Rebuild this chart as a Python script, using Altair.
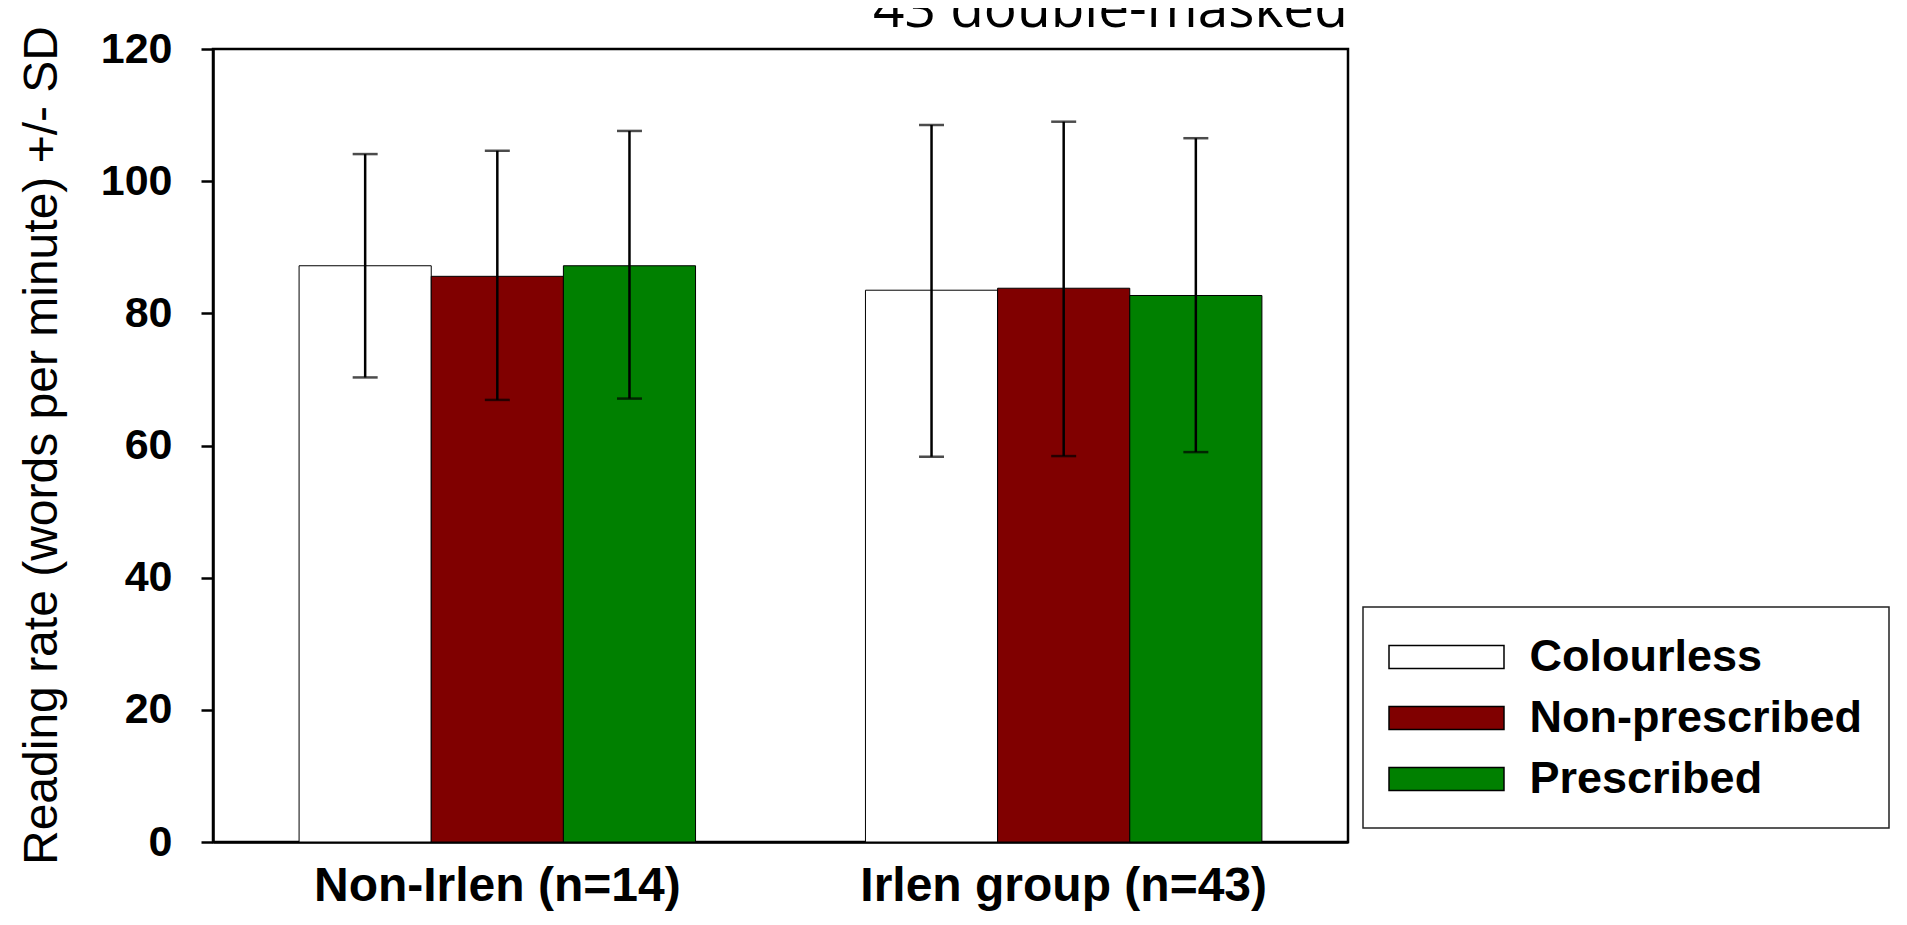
import altair as alt
import pandas as pd

# ---- data ----
groups = ["Non-Irlen (n=14)", "Irlen group (n=43)"]
conditions = ["Colourless", "Non-prescribed", "Prescribed"]
colors = ["#ffffff", "#800000", "#008000"]

mean_non_irlen = [87.2, 85.6, 87.2]
upper_non_irlen = [104.1, 104.6, 107.6]
lower_non_irlen = [70.3, 66.9, 67.1]

mean_irlen = [83.5, 83.8, 82.7]
upper_irlen = [108.5, 109.0, 106.5]
lower_irlen = [58.3, 58.4, 59.0]

y_ticks = [0, 20, 40, 60, 80, 100, 120]
y_title = "Reading rate (words per minute) +/- SD"
top_note = "43 double-masked"

rows = []
for g, means, ups, los in [
    (groups[0], mean_non_irlen, upper_non_irlen, lower_non_irlen),
    (groups[1], mean_irlen, upper_irlen, lower_irlen),
]:
    for c, m, u, l in zip(conditions, means, ups, los):
        rows.append({"group": g, "condition": c, "mean": m, "upper": u, "lower": l})
df = pd.DataFrame(rows)

FONT = "Liberation Sans"

x_enc = alt.X(
    "group:N",
    sort=groups,
    scale=alt.Scale(paddingInner=0.3, paddingOuter=0.152),
    axis=alt.Axis(
        title=None,
        labelAngle=0,
        ticks=False,
        labelFont=FONT,
        labelFontWeight="bold",
        labelFontSize=48,
        labelColor="black",
        labelPadding=20,
        labelLimit=1000,
        domainColor="black",
        domainWidth=2.5,
    ),
)
xoff_enc = alt.XOffset(
    "condition:N", sort=conditions, scale=alt.Scale(paddingInner=0, paddingOuter=0)
)
y_scale = alt.Scale(domain=[0, 120], nice=False, zero=True)
y_axis = alt.Axis(
    values=y_ticks,
    grid=False,
    labelFont=FONT,
    labelFontWeight="bold",
    labelFontSize=43,
    labelColor="black",
    labelPadding=29,
    tickSize=12,
    tickWidth=2.5,
    tickColor="black",
    domainColor="black",
    domainWidth=2.5,
    titleFont=FONT,
    titleFontWeight="normal",
    titleFontSize=48,
    titleColor="black",
    titleAngle=-90,
    titleAlign="center",
    titleBaseline="alphabetic",
    titleX=-157,
    titleY=396,
)

base = alt.Chart(df)

bars = base.mark_bar(stroke="black", strokeWidth=1).encode(
    x=x_enc,
    xOffset=xoff_enc,
    y=alt.Y("mean:Q", scale=y_scale, axis=y_axis, title=y_title),
    color=alt.Color(
        "condition:N",
        sort=conditions,
        scale=alt.Scale(domain=conditions, range=colors),
        legend=alt.Legend(
            title=None,
            orient="none",
            legendX=1150,
            legendY=558,
            padding=26,
            rowPadding=14,
            strokeColor="#222222",
            fillColor="white",
            symbolType="M-2.473,-0.495H2.473V0.495H-2.473Z",
            symbolSize=2162,
            symbolOffset=33.5,
            symbolStrokeColor="black",
            symbolStrokeWidth=1.5,
            symbolOpacity=1,
            labelFont=FONT,
            labelFontWeight="bold",
            labelFontSize=45,
            labelColor="black",
            labelOffset=59,
            labelLimit=600,
        ),
    ),
)

whiskers = base.mark_rule(color="black", strokeWidth=2.5).encode(
    x=x_enc,
    xOffset=xoff_enc,
    y=alt.Y("lower:Q", scale=y_scale, axis=y_axis, title=y_title),
    y2="upper:Q",
)

caps_up = base.mark_tick(
    color="black", orient="horizontal", size=25, thickness=2.5
).encode(
    x=x_enc,
    xOffset=xoff_enc,
    y=alt.Y("upper:Q", scale=y_scale, axis=y_axis, title=y_title),
)

caps_lo = base.mark_tick(
    color="black", orient="horizontal", size=25, thickness=2.5
).encode(
    x=x_enc,
    xOffset=xoff_enc,
    y=alt.Y("lower:Q", scale=y_scale, axis=y_axis, title=y_title),
)

note = (
    alt.Chart(pd.DataFrame({"t": [top_note]}))
    .mark_text(
        font="Open Sans",
        fontSize=55,
        color="black",
        align="left",
        baseline="alphabetic",
    )
    .encode(text="t:N", x=alt.value(660), y=alt.value(-22))
)

chart = (
    alt.layer(bars, whiskers, caps_up, caps_lo, note)
    .properties(
        width=1135,
        height=793,
        autosize=alt.AutoSizeParams(type="none"),
        padding={"left": 205, "top": 41, "right": 550, "bottom": 71},
        background="white",
    )
    .configure_view(stroke="black", strokeWidth=2.5)
    .configure_legend(strokeWidth=1.5)
)

chart.save("out.html", embed_options={"renderer": "svg", "actions": False})
